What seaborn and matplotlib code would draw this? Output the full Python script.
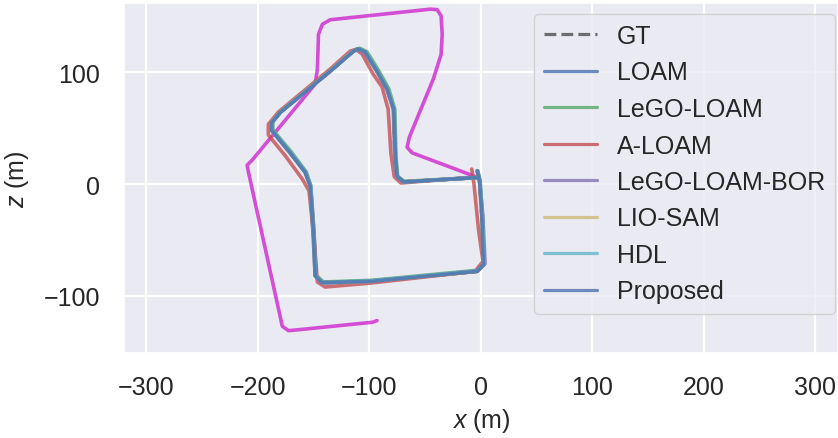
import matplotlib
matplotlib.use("Agg")
import matplotlib.pyplot as plt
import seaborn as sns

# trajectories (x, z) in metres
gt_x = [-3, -1, 1, 2.5, -3.4, -99, -142, -148, -150, -153, -157, -171, -187, -187, -180, -135, -114, -110, -104, -93, -84, -78, -77, -75, -69, -2]
gt_z = [12, 3, -28, -72, -78, -87, -88, -82, -43, -1.5, 10.5, 28, 48, 55, 64, 101, 119, 121, 118, 101, 85, 67, 25, 7, 2, 6]

loam_x = [-3, -1, 1.5, 3, -3, -99, -142, -148.5, -150.5, -153, -157.5, -171, -187.5, -187.5, -180, -135, -114, -109.5, -103.5, -92.5, -83.5, -78, -76.5, -75, -69, -2]
loam_z = [12, 3, -28, -72, -78, -86.5, -88, -82, -43, -1, 11, 28.5, 48, 55.5, 64.5, 101.5, 119.5, 121, 118, 101, 85, 67, 25, 7, 2, 6]

lego_x = [-2.5, -0.5, 1.5, 3, -3, -98, -141, -147.5, -149.5, -152.5, -156.5, -170, -186.5, -186.5, -179, -134, -113, -108.5, -102, -91.5, -82.5, -77, -76, -74.5, -68.5, -2]
lego_z = [11, 3, -28, -71, -77, -86, -87.5, -81.5, -43, -1, 11, 29, 48.5, 56, 65, 102, 120, 121.5, 118.5, 101.5, 85.5, 67, 25, 7, 2.5, 6]

aloam_x = [-8, -6, -2, 2, -5, -99, -139.5, -146.5, -149.5, -154, -160, -175, -190.5, -190.5, -181.5, -135, -117, -112, -106.5, -96.5, -88.5, -83, -80.5, -77.5, -71.5, -4]
aloam_z = [13.5, 0, -40, -69, -78, -88.5, -92, -87.5, -49, -6, 4.5, 25, 44, 53.5, 64.5, 103, 119, 120.5, 116.5, 98.5, 87, 67, 27, 6.5, 1, 6.5]

bor_x = [-3, -1, 2, 4, -2.5, -99, -142.5, -148, -149.5, -152.5, -157, -171, -187, -187, -180, -135, -114.5, -110, -104, -93, -84, -78.5, -77, -75.5, -69.5, -2.5]
bor_z = [12, 3, -28, -71, -77.5, -87, -88.5, -82.5, -43.5, -2, 10, 28, 47.5, 55, 64, 101, 119, 120.5, 117.5, 100.5, 84.5, 66.5, 25, 7, 2, 6]

liosam_x = [-3, -1, 1, 2.5, -3.5, -99, -142, -148.5, -150, -153, -157.5, -171, -187.5, -187.5, -180, -135, -114, -109.5, -103.5, -93, -84, -78, -76.5, -75, -69, -2]
liosam_z = [12, 3, -28, -72, -78, -87, -88, -82, -43, -1.5, 10.5, 28, 48, 55.5, 64.5, 101.5, 119.5, 121, 118, 101, 85, 67, 25, 7, 2, 6]

hdl_x = [-2.5, -0.5, 1.5, 3, -3, -99, -142, -148, -150, -152.5, -157, -170.5, -187, -187, -179.5, -134.5, -113.5, -109, -103, -92.5, -83.5, -77.5, -76.5, -75, -69, -2]
hdl_z = [11.5, 3, -28, -71.5, -77.5, -86.5, -88, -82, -43, -1.5, 10.5, 28.5, 48, 55.5, 64.5, 101.5, 119.5, 121, 118, 101, 85, 67, 25, 7, 2, 6]

prop_x = [-3, -1, 1, 2.5, -3.4, -99, -142.5, -148.5, -150, -153, -157.5, -171, -187.5, -187.5, -180, -135, -114, -109.5, -103.5, -93, -84, -78, -76.5, -75, -69, -2]
prop_z = [12, 3, -28, -72, -78, -87, -88, -82, -43, -1.5, 10.5, 28, 48, 55, 64, 101, 119, 121, 118, 101, 85, 67, 25, 7, 2, 6]

# the drifting run that is not in the legend
drift_x = [-93, -97, -166.5, -172.5, -178, -208.5, -209.5, -205, -148.5, -146.5, -145.5, -142, -135, -45, -39, -35.5, -34.5, -35.5, -42.5, -64, -66, -61.5, -4]
drift_z = [-122, -123.5, -130.5, -131, -127, 11.5, 17, 21.5, 89.5, 103, 134, 143, 147, 156.5, 156, 150.5, 134, 116, 94, 42, 33, 28, 6.5]

sns.set_theme(style="darkgrid", rc={"grid.linewidth": 1.6})
plt.rcParams["font.family"] = ["Liberation Sans", "DejaVu Sans"]
plt.rcParams["mathtext.fontset"] = "custom"
plt.rcParams["mathtext.it"] = "Liberation Sans:italic"
plt.rcParams["mathtext.rm"] = "Liberation Sans"

fig = plt.figure(figsize=(8.38, 4.39), dpi=100)
ax = fig.add_axes([124 / 838, 85 / 439, 714 / 838, 350 / 439])

lw = 2.6
kw = dict(sort=False, estimator=None, ax=ax, linewidth=lw, alpha=0.8)
sns.lineplot(x=drift_x, y=drift_z, sort=False, estimator=None, ax=ax,
             color=(0.8, 0.1, 0.8), linewidth=lw, alpha=0.75)

sns.lineplot(x=gt_x, y=gt_z, color="k", linestyle="--", label="GT",
             sort=False, estimator=None, ax=ax, linewidth=lw, alpha=0.6)
pal = sns.color_palette("deep")
runs = [
    ("LOAM", loam_x, loam_z, pal[0]),
    ("LeGO-LOAM", lego_x, lego_z, pal[2]),
    ("A-LOAM", aloam_x, aloam_z, pal[3]),
    ("LeGO-LOAM-BOR", bor_x, bor_z, pal[4]),
    ("LIO-SAM", liosam_x, liosam_z, pal[8]),
    ("HDL", hdl_x, hdl_z, pal[9]),
    ("Proposed", prop_x, prop_z, pal[0]),
]
for name, xs, zs, c in runs:
    sns.lineplot(x=xs, y=zs, color=c, label=name, **kw)

for line in ax.get_lines():
    line.set_solid_joinstyle("round")
    line.set_solid_capstyle("round")

ax.set_xlim(-320, 320.6)
ax.set_ylim(-151, 162)
ax.set_xticks([-300, -200, -100, 0, 100, 200, 300])
ax.set_yticks([-100, 0, 100])
ax.tick_params(axis="x", labelsize=18, pad=10)
ax.tick_params(axis="y", labelsize=18, pad=11)
ax.set_xlabel("$x$ (m)", fontsize=18, labelpad=5)
ax.set_ylabel("$z$ (m)", fontsize=18, labelpad=9)

leg = ax.legend(loc="upper right", bbox_to_anchor=(835 / 838, 1 - 15 / 439),
                bbox_transform=fig.transFigure, borderaxespad=0, fontsize=18,
                handlelength=2.1, labelspacing=0.5)
for h in leg.get_lines():
    h.set_linewidth(2.3)

fig.savefig("out.png", dpi=100)
